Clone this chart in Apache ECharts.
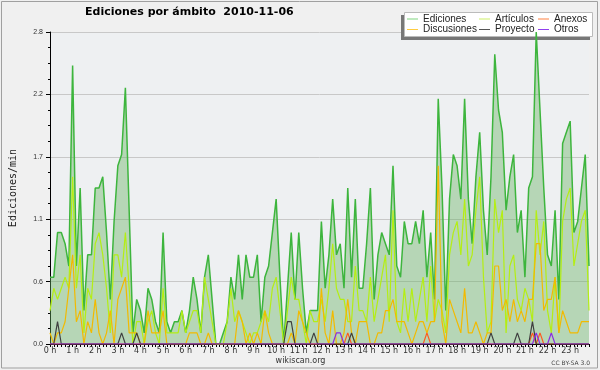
<!DOCTYPE html>
<html><head><meta charset="utf-8">
<script src="https://cdn.jsdelivr.net/npm/echarts@6/dist/echarts.min.js"></script>
<style>html,body{margin:0;padding:0;background:#f0f0f0}#c{width:600px;height:370px}</style>
</head><body><div id="c"></div>
<script>
const hourLabels = ['0 h','1 h','2 h','3 h','4 h','5 h','6 h','7 h','8 h','9 h','10 h','11 h','12 h','13 h','14 h','15 h','16 h','17 h','18 h','19 h','20 h','21 h','22 h','23 h'];
const yTickValues = [0, 0.56, 1.12, 1.68, 2.24, 2.8];

// one value every 10 minutes (6 per hour), edits per minute
const ediciones = [
 0.6,0.6,1.0,1.0,0.9,0.7, 2.5,0.7,1.4,0.3,0.8,0.8, 1.4,1.4,1.5,1.0,0.4,1.1, 1.6,1.7,2.3,1.2,0.1,0.4,
 0.3,0.1,0.5,0.4,0.2,0.1, 1.0,0.2,0.1,0.2,0.2,0.3, 0.1,0.3,0.6,0.4,0.1,0.6, 0.8,0.4,0.0,0.0,0.1,0.2,
 0.6,0.4,0.8,0.4,0.8,0.6, 0.6,0.8,0.2,0.6,0.7,1.0, 1.3,0.6,0.0,0.5,1.0,0.4, 1.0,0.5,0.1,0.3,0.3,0.3,
 1.1,0.5,0.8,1.3,0.8,0.9, 0.5,1.4,0.6,1.3,0.5,0.5, 0.9,1.4,0.4,0.8,1.0,0.9, 0.8,1.6,0.7,0.6,1.1,0.9,
 0.9,1.1,0.9,1.2,0.6,1.0, 0.4,2.2,1.4,0.3,1.3,1.7, 1.6,1.3,2.2,1.3,0.9,1.5, 1.9,1.2,0.8,1.5,2.6,2.1,
 1.9,1.2,1.5,1.7,1.0,1.2, 0.6,1.4,1.5,2.8,2.1,1.4, 0.8,0.7,1.2,0.4,1.8,1.9, 2.0,1.0,1.1,1.4,1.7,0.7
];
const articulos = [
 0.3,0.5,0.4,0.5,0.6,0.5, 1.5,0.5,0.8,0.1,0.5,0.4, 0.9,1.0,0.8,0.5,0.1,0.8, 0.8,0.6,1.0,0.5,0.0,0.2,
 0.2,0.0,0.2,0.3,0.1,0.0, 0.5,0.1,0.1,0.1,0.1,0.3, 0.1,0.2,0.3,0.3,0.1,0.6, 0.4,0.2,0.0,0.0,0.0,0.2,
 0.5,0.2,0.3,0.2,0.1,0.0, 0.1,0.1,0.2,0.3,0.2,0.5, 0.6,0.3,0.0,0.3,0.6,0.4, 0.4,0.2,0.0,0.3,0.2,0.2,
 0.4,0.2,0.5,0.9,0.5,0.4, 0.4,0.2,0.2,0.7,0.3,0.3, 0.2,0.6,0.2,0.4,0.6,0.8, 0.2,1.2,0.2,0.1,0.5,0.2,
 0.5,0.2,0.4,0.6,0.2,0.7, 0.2,0.4,0.3,0.1,0.8,1.0, 1.1,0.8,1.3,0.7,0.8,1.2, 1.5,0.6,0.1,0.2,1.3,1.0,
 1.2,0.1,0.7,0.8,0.4,0.3, 0.5,0.4,0.2,1.2,0.8,1.1, 0.3,0.1,0.6,0.1,1.1,1.3, 1.4,0.7,0.9,1.1,1.2,0.3
];
const discusiones = [
 0.1,0.0,0.1,0.1,0.2,0.5, 0.8,0.2,0.3,0.0,0.2,0.1, 0.4,0.1,0.0,0.1,0.3,0.0, 0.4,0.5,0.6,0.1,0.1,0.1,
 0.0,0.0,0.3,0.1,0.1,0.1, 0.3,0.0,0.0,0.0,0.0,0.0, 0.0,0.1,0.1,0.1,0.0,0.0, 0.1,0.0,0.0,0.0,0.0,0.0,
 0.0,0.0,0.3,0.2,0.0,0.1, 0.0,0.1,0.0,0.3,0.1,0.0, 0.0,0.0,0.0,0.0,0.1,0.0, 0.3,0.2,0.1,0.0,0.0,0.0,
 0.5,0.1,0.0,0.3,0.0,0.0, 0.1,0.4,0.1,0.0,0.2,0.2, 0.2,0.0,0.0,0.1,0.1,0.3, 0.3,0.4,0.2,0.2,0.2,0.1,
 0.0,0.1,0.2,0.2,0.1,0.2, 0.2,1.6,0.2,0.0,0.4,0.3, 0.2,0.1,0.5,0.1,0.1,0.2, 0.1,0.0,0.1,0.1,0.7,0.7,
 0.3,0.4,0.2,0.4,0.2,0.3, 0.2,0.4,0.4,0.9,0.9,0.3, 0.4,0.4,0.6,0.1,0.3,0.2, 0.1,0.1,0.1,0.2,0.2,0.2
];
const anexos = [
 0,0,0,0,0,0, 0,0,0,0,0,0, 0,0,0,0,0,0, 0,0,0,0,0,0,
 0,0,0,0,0,0, 0,0,0,0,0,0, 0,0,0,0,0,0, 0,0,0,0,0,0,
 0,0,0,0,0,0, 0,0,0,0,0,0, 0,0,0,0,0,0, 0,0,0,0,0,0,
 0,0,0,0,0,0, 0,0.1,0,0,0,0, 0,0,0,0,0,0, 0,0,0,0,0,0,
 0,0,0,0,0.1,0, 0,0,0,0,0,0, 0,0,0,0,0,0, 0,0,0,0,0,0,
 0,0,0,0,0,0, 0,0,0.1,0,0.1,0, 0,0,0,0,0,0, 0,0,0,0,0,0
];
const proyecto = [
 0,0,0.2,0,0,0, 0,0,0,0,0,0, 0,0,0,0,0,0, 0,0.1,0,0,0,0.1,
 0,0,0,0,0,0, 0,0,0,0,0,0, 0,0,0,0,0,0, 0,0,0,0,0,0,
 0,0,0,0,0,0, 0,0,0,0,0,0, 0,0,0,0.2,0.2,0, 0,0,0,0,0.1,0,
 0,0,0,0,0,0, 0,0,0.1,0,0,0, 0,0,0,0,0,0, 0,0,0,0,0,0,
 0,0,0,0,0,0, 0,0,0,0,0,0, 0,0,0,0,0,0, 0,0,0,0.1,0,0,
 0,0,0,0,0.1,0, 0,0,0.2,0,0,0, 0,0,0,0,0,0, 0,0,0,0,0,0
];
const otros = [
 0,0,0,0,0,0, 0,0,0,0,0,0, 0,0,0,0,0,0, 0,0,0,0,0,0,
 0,0,0,0,0,0, 0,0,0,0,0,0, 0,0,0,0,0,0, 0,0,0,0,0,0,
 0,0,0,0,0,0, 0,0,0,0,0,0, 0,0,0,0,0,0, 0,0,0,0,0,0,
 0,0,0,0,0.1,0.1, 0,0,0,0,0,0, 0,0,0,0,0,0, 0,0,0,0,0,0,
 0,0,0,0,0,0, 0,0,0,0,0,0, 0,0,0,0,0,0, 0,0,0,0,0,0,
 0,0,0,0,0,0, 0,0,0,0.1,0,0, 0,0.1,0,0,0,0, 0,0,0,0,0,0
];

const times = [];
for (let h = 0; h < 24; h++) for (let m = 0; m < 60; m += 10)
  times.push(String(h).padStart(2,'0') + ':' + String(m).padStart(2,'0'));

function lineSeries(name, data, color, width, z) {
  return {name, type:'line', data, symbol:'none', showSymbol:false, silent:true, z,
    color, lineStyle:{color, width}, itemStyle:{color}};
}
const edSeries = lineSeries('Ediciones', ediciones, '#3db53d', 1.5, 2);
edSeries.areaStyle = {color:'rgba(105,178,99,0.6)'};

const legText = {fontFamily:'Liberation Sans', fontSize:10, color:'#222', lineHeight:10};
function legItem(name, color){
  return {name, icon:'rect', itemStyle:{color, borderWidth:0}, lineStyle:{color, width:0}};
}
function legend(left, items){
  return {orient:'vertical', left, top:14, padding:0, itemWidth:11, itemHeight:1, itemGap:0.5,
    icon:'rect', selectedMode:false, textStyle:legText, data:items};
}

const chart = echarts.init(document.getElementById('c'), null, {renderer:'canvas'});
chart.setOption({
  animation:false,
  backgroundColor:'#f0f0f0',
  title:{text:'Ediciones por ámbito  2010-11-06', left:85, top:7, padding:0,
    textStyle:{fontFamily:'DejaVu Sans', fontWeight:'bold', fontSize:11, color:'#000'}},
  legend:[
    legend(407, [legItem('Ediciones','#7fd47f'), legItem('Discusiones','#ffcc40')]),
    legend(479, [legItem('Artículos','#ccee66'), legItem('Proyecto','#555555')]),
    legend(538, [legItem('Anexos','#ff8040'), legItem('Otros','#9040ee')])
  ],
  grid:{left:46, top:32, width:543, height:312, show:true, backgroundColor:'#eef0f2', borderWidth:0},
  xAxis:{type:'category', data:times, boundaryGap:false,
    axisLine:{lineStyle:{color:'#000', width:1}},
    axisTick:{interval:0, length:3, lineStyle:{color:'#000'}},
    axisLabel:{interval:5, margin:3, fontFamily:'DejaVu Sans', fontSize:8, color:'#333',
      formatter:(v,i)=> hourLabels[i/6] || ''},
    splitLine:{show:false}},
  yAxis:{type:'value', min:yTickValues[0], max:yTickValues[yTickValues.length-1], interval:yTickValues[1],
    axisLine:{show:true, lineStyle:{color:'#000'}},
    axisTick:{show:true, length:4, lineStyle:{color:'#000'}},
    minorTick:{show:true, splitNumber:4, length:2, lineStyle:{color:'#000'}},
    splitLine:{lineStyle:{color:'#c8c8c8'}},
    axisLabel:{margin:7, fontFamily:'Liberation Sans', fontSize:7, color:'#333', formatter:v=>v.toFixed(1)},
    name:'Ediciones/min', nameLocation:'middle', nameGap:32,
    nameTextStyle:{fontFamily:'DejaVu Sans Mono', fontSize:10, color:'#222'}},
  graphic:[
    {type:'rect', z:0, silent:true, shape:{x:1.5, y:1.5, width:596, height:366.5}, style:{fill:null, stroke:'#a0a0a0', lineWidth:1}},
    {type:'rect', z:1, silent:true, shape:{x:401, y:15, width:189, height:25}, style:{fill:'#777'}},
    {type:'rect', z:1, silent:true, shape:{x:404.5, y:12.5, width:188, height:24}, style:{fill:'#fff', stroke:'#bbb', lineWidth:1}},
    {type:'text', z:3, silent:true, x:300.5, y:361, style:{text:'wikiscan.org', fontFamily:'DejaVu Sans', fontSize:8, fill:'#333', align:'center', verticalAlign:'middle'}},
    {type:'text', z:3, silent:true, x:590, y:363, style:{text:'CC BY-SA 3.0', fontFamily:'DejaVu Sans', fontSize:6, fill:'#444', align:'right', verticalAlign:'middle'}}
  ],
  series:[
    edSeries,
    lineSeries('Artículos', articulos, '#b4ee14', 1.2, 3),
    lineSeries('Discusiones', discusiones, '#f2ba00', 1.2, 4),
    lineSeries('Anexos', anexos, '#ff5a1e', 1.2, 5),
    lineSeries('Proyecto', proyecto, '#404040', 1.2, 6),
    lineSeries('Otros', otros, '#8a2be2', 1.2, 7)
  ]
});
</script></body></html>
